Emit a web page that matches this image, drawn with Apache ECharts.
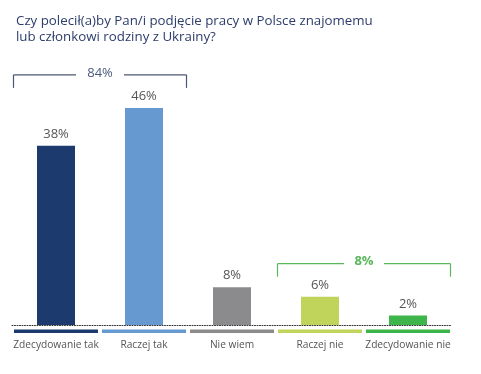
<!DOCTYPE html>
<html>
<head>
<meta charset="utf-8">
<script src="https://cdn.jsdelivr.net/npm/echarts@6/dist/echarts.min.js"></script>
<style>html,body{margin:0;padding:0;background:#fff;}#c{width:481px;height:374px;}</style>
</head>
<body>
<div id="c"></div>
<script>
const titleText = "Czy polecił(a)by Pan/i podjęcie pracy w Polsce znajomemu\nlub członkowi rodziny z Ukrainy?";
const categories = ["Zdecydowanie tak", "Raczej tak", "Nie wiem", "Raczej nie", "Zdecydowanie nie"];
const values = [38, 46, 8, 6, 2];
const valueLabels = ["38%", "46%", "8%", "6%", "2%"];
const groupStart = [0, 3];
const groupEnd = [1, 4];
const groupLabels = ["84%", "8%"];

const barColors = ["#1d3a6e", "#6699cf", "#8b8b8d", "#c0d45b", "#3db54a"];
const groupLineColors = ["#4b5670", "#5cb85c"];
const groupTextColors = ["#4b5a7d", "#5cb85c"];
const groupWeights = ["normal", "bold"];
const FONT = "'Open Sans', 'DejaVu Sans', sans-serif";

const chart = echarts.init(document.getElementById('c'), null, {renderer: 'canvas'});

const bracketData = groupStart.map((s, i) => {
  const e = groupEnd[i];
  const mx = Math.max(...values.slice(s, e + 1));
  return [s, e, mx, i];
});

chart.setOption({
  animation: false,
  backgroundColor: '#fff',
  title: {
    text: titleText,
    left: 11,
    top: 8,
    textStyle: {fontFamily: FONT, fontSize: 13.3, fontWeight: 'normal', color: '#2d3d6b', lineHeight: 16}
  },
  grid: {left: 12, right: 29, top: 89, bottom: 49},
  xAxis: {
    type: 'category',
    data: categories,
    axisTick: {show: false},
    axisLine: {show: true, lineStyle: {type: [1, 1.5], color: '#333', width: 1}},
    axisLabel: {margin: 15, fontFamily: FONT, fontSize: 10.2, color: '#555', interval: 0}
  },
  yAxis: {
    type: 'value', min: 0, max: 50,
    show: false, splitLine: {show: false}
  },
  series: [
    {
      type: 'bar',
      barWidth: 38,
      data: values.map((v, i) => ({value: v, itemStyle: {color: barColors[i]}})),
      label: {
        show: true, position: 'top', distance: 5,
        formatter: p => valueLabels[p.dataIndex],
        fontFamily: FONT, fontSize: 13, color: '#555'
      },
      z: 3
    },
    {
      type: 'custom',
      clip: false,
      silent: true,
      data: categories.map((c, i) => [i, 0]),
      encode: {x: 0, y: 1},
      renderItem: (params, api) => {
        const p = api.coord([api.value(0), 0]);
        const w = api.size([1, 0])[0];
        return {
          type: 'rect',
          shape: {x: p[0] - w / 2 + 2, y: p[1] + 4.5, width: w - 4, height: 3.5},
          style: {fill: barColors[params.dataIndex]}
        };
      },
      z: 2
    },
    {
      type: 'custom',
      clip: false,
      silent: true,
      data: bracketData,
      encode: {x: [0, 1], y: 2},
      renderItem: (params, api) => {
        const gi = api.value(3);
        const w = api.size([1, 0])[0];
        const a = api.coord([api.value(0), api.value(2)]);
        const b = api.coord([api.value(1), api.value(2)]);
        const x1 = a[0] - w / 2 + 1.5;
        const x2 = b[0] + w / 2 - 1.5;
        const y = a[1] - 33;
        const mid = (x1 + x2) / 2;
        const txt = groupLabels[gi];
        const half = 12 + txt.length * 4;
        const ls = {stroke: groupLineColors[gi], lineWidth: 1.2};
        return {
          type: 'group',
          children: [
            {type: 'line', shape: {x1: x1, y1: y, x2: mid - half, y2: y}, style: ls},
            {type: 'line', shape: {x1: mid + half, y1: y, x2: x2, y2: y}, style: ls},
            {type: 'line', shape: {x1: x1, y1: y, x2: x1, y2: y + 13}, style: ls},
            {type: 'line', shape: {x1: x2, y1: y, x2: x2, y2: y + 13}, style: ls},
            {type: 'text', x: mid, y: y - 2, style: {
              text: txt, fill: groupTextColors[gi], font: groupWeights[gi] + ' 13px ' + FONT,
              align: 'center', verticalAlign: 'middle'
            }}
          ]
        };
      },
      z: 4
    }
  ]
});
</script>
</body>
</html>
